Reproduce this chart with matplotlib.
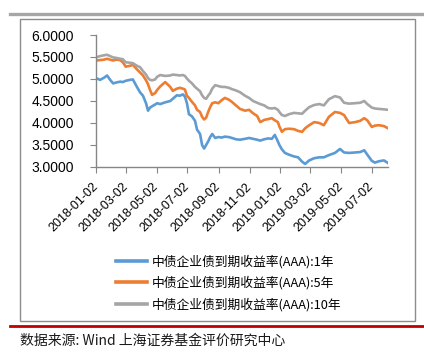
import matplotlib
matplotlib.use("Agg")
import matplotlib.pyplot as plt
from matplotlib.lines import Line2D
from matplotlib.patches import Rectangle
import pandas as pd

dates = ["2018-01-02","2018-01-10","2018-01-18","2018-01-24","2018-01-30","2018-02-05","2018-02-11","2018-02-19","2018-02-24","2018-03-02",
         "2018-03-10","2018-03-16","2018-03-24","2018-03-30","2018-04-05","2018-04-11","2018-04-15","2018-04-19","2018-04-23","2018-04-29",
         "2018-05-03","2018-05-09","2018-05-19","2018-05-29","2018-06-03","2018-06-11","2018-06-17","2018-06-23","2018-06-27","2018-07-01",
         "2018-07-05","2018-07-11","2018-07-17","2018-07-21","2018-07-27","2018-07-31","2018-08-04","2018-08-08","2018-08-12","2018-08-16",
         "2018-08-20","2018-08-26","2018-09-01","2018-09-08","2018-09-14","2018-09-22","2018-09-28","2018-10-06","2018-10-14","2018-10-24",
         "2018-11-01","2018-11-09","2018-11-17","2018-11-23","2018-12-01","2018-12-09","2018-12-16","2018-12-22","2018-12-28","2018-12-31",
         "2019-01-05","2019-01-11","2019-01-19","2019-01-29","2019-02-06","2019-02-14","2019-02-20","2019-02-28","2019-03-10","2019-03-20",
         "2019-03-29","2019-04-08","2019-04-20","2019-04-30","2019-05-08","2019-05-18","2019-05-30","2019-06-09","2019-06-17","2019-06-23",
         "2019-07-02","2019-07-08","2019-07-16","2019-07-26","2019-08-03"]

y1 = [5.02,4.98,5.03,5.08,4.98,4.90,4.92,4.94,4.93,4.96,
      4.98,4.99,4.82,4.70,4.62,4.45,4.28,4.35,4.38,4.42,
      4.45,4.43,4.47,4.50,4.55,4.63,4.62,4.65,4.60,4.45,
      4.20,4.15,4.05,3.85,3.75,3.50,3.42,3.50,3.58,3.68,
      3.75,3.66,3.68,3.67,3.69,3.68,3.66,3.63,3.62,3.64,
      3.66,3.64,3.62,3.60,3.63,3.65,3.64,3.73,3.58,3.50,
      3.40,3.32,3.28,3.24,3.22,3.12,3.07,3.15,3.20,3.22,
      3.22,3.27,3.32,3.41,3.33,3.32,3.33,3.34,3.38,3.28,
      3.14,3.10,3.13,3.15,3.09]

y5 = [5.42,5.43,5.44,5.46,5.44,5.42,5.44,5.43,5.38,5.28,
      5.30,5.32,5.22,5.15,5.08,4.97,4.88,4.75,4.64,4.68,
      4.75,4.83,4.93,4.82,4.73,4.78,4.80,4.78,4.76,4.62,
      4.57,4.48,4.40,4.30,4.25,4.14,4.08,4.12,4.25,4.36,
      4.45,4.47,4.45,4.52,4.57,4.53,4.48,4.40,4.32,4.28,
      4.30,4.22,4.16,4.02,4.07,4.09,4.11,4.06,4.02,3.92,
      3.80,3.86,3.87,3.86,3.82,3.80,3.88,3.95,4.02,4.00,
      3.95,4.14,4.25,4.23,4.18,4.00,4.02,4.05,4.11,4.06,
      3.91,3.94,3.95,3.93,3.88]

y10 = [5.49,5.52,5.54,5.55,5.52,5.49,5.48,5.46,5.45,5.38,
       5.37,5.36,5.30,5.27,5.18,5.10,5.02,4.98,4.97,4.99,
       5.05,5.09,5.07,5.08,5.10,5.09,5.08,5.09,5.07,5.01,
       4.96,4.90,4.82,4.78,4.72,4.63,4.57,4.55,4.62,4.68,
       4.78,4.86,4.84,4.82,4.82,4.80,4.77,4.74,4.70,4.62,
       4.57,4.50,4.46,4.43,4.40,4.34,4.33,4.34,4.30,4.25,
       4.18,4.16,4.20,4.23,4.22,4.21,4.28,4.36,4.41,4.43,
       4.40,4.54,4.61,4.58,4.46,4.44,4.45,4.46,4.50,4.43,
       4.35,4.33,4.32,4.31,4.30]

series_names = ["中债企业债到期收益率(AAA):1年",
                "中债企业债到期收益率(AAA):5年",
                "中债企业债到期收益率(AAA):10年"]
colors = ["#5B9BD5", "#ED7D31", "#A5A5A5"]
tick_dates = ["2018-01-02","2018-03-02","2018-05-02","2018-07-02","2018-09-02",
              "2018-11-02","2019-01-02","2019-03-02","2019-05-02","2019-07-02"]
y_ticks = [3.0, 3.5, 4.0, 4.5, 5.0, 5.5, 6.0]
source_text = "数据来源: Wind 上海证券基金评价研究中心"

W, H = 424, 354
fig = plt.figure(figsize=(W/100, H/100), dpi=100)
fig.patch.set_facecolor("white")

def fx(px): return px / W
def fy(py): return 1 - py / H

# decorations
fig.add_artist(Line2D([fx(10), fx(424)], [fy(14), fy(14)], color="#A6A6A6", lw=2.4))
fig.add_artist(Rectangle((fx(20), fy(321)), fx(415) - fx(20), fy(19) - fy(321),
                         fill=False, edgecolor="#8C8C8C", lw=1.0))
fig.add_artist(Line2D([fx(10), fx(424)], [fy(326), fy(326)], color="#C00000", lw=2.0))
fig.text(fx(20), fy(341), source_text, fontsize=10, style="italic", color="#1A1A1A",
         family=["Noto Sans CJK SC", "DejaVu Sans"], va="center", ha="left")

ax = fig.add_axes([fx(96), fy(167), fx(388) - fx(96), fy(35) - fy(167)])
x = pd.to_datetime(dates)
for ys, c, n in zip([y1, y5, y10], colors, series_names):
    ax.plot(x, ys, color=c, lw=1.9, label=n, solid_joinstyle="round")

ax.set_ylim(3.0, 6.0)
ax.set_xlim(pd.Timestamp(dates[0]), pd.Timestamp(dates[-1]))
ax.set_yticks(y_ticks)
ax.set_yticklabels([f"{v:.4f}" for v in y_ticks], family="Liberation Sans", fontsize=10)
td = pd.to_datetime(tick_dates)
ax.set_xticks(td)
ax.set_xticklabels(tick_dates, rotation=45, ha="right", va="center",
                   rotation_mode="anchor", family="Liberation Sans", fontsize=9)
for s in ["top", "right"]:
    ax.spines[s].set_visible(False)
for s in ["left", "bottom"]:
    ax.spines[s].set_color("#868686")
    ax.spines[s].set_linewidth(1.0)
ax.tick_params(axis="y", length=4, color="#868686", pad=12)
ax.tick_params(axis="x", length=4, color="#868686", pad=9)

handles = [Line2D([0], [0], color=c, lw=2.6) for c in colors]
fig.legend(handles, series_names, loc="upper left", bbox_to_anchor=(fx(110), fy(248)),
           frameon=False, prop={"family": ["Noto Sans CJK SC", "DejaVu Sans"], "size": 9.2},
           handlelength=2.4, handletextpad=0.4, labelspacing=0.62, borderpad=0)

fig.savefig("out.png", dpi=100, facecolor="white")
